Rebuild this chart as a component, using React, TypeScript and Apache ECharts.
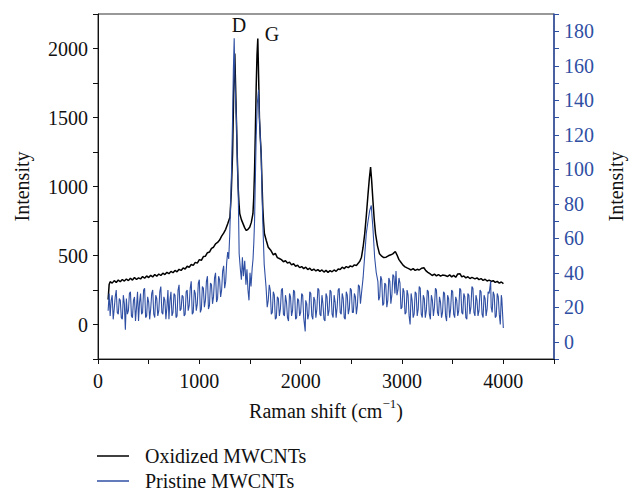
import React, { useEffect, useRef } from "react";
import * as echarts from "echarts";

const FONT = "Liberation Serif";
const BLUE = "#2f4fa3";
const INK = "#111";

const xTickLabels = [0, 1000, 2000, 3000, 4000];
const seriesNames = ["Oxidized MWCNTs", "Pristine MWCNTs"];
const peakLabels = ["D", "G"];

// Oxidized MWCNTs: [Raman shift, intensity (left axis)]
const oxidized: number[][] = [
  [100, 180], [110, 290], [120, 310], [140, 300], [160, 318], [180, 305], [200, 322], [220, 310],
  [240, 326], [260, 315], [280, 330], [300, 318], [320, 335], [340, 322], [360, 340], [380, 326],
  [400, 338], [420, 330], [440, 348], [460, 335], [480, 352], [500, 340], [520, 356], [540, 345],
  [560, 362], [580, 350], [600, 366], [620, 355], [640, 372], [660, 362], [680, 378], [700, 368],
  [720, 385], [740, 375], [760, 392], [780, 382], [800, 400], [820, 392], [840, 410], [860, 402],
  [880, 422], [900, 415], [920, 435], [940, 428], [960, 450], [980, 445], [1000, 470], [1020, 465],
  [1040, 492], [1060, 495], [1080, 520], [1100, 525], [1120, 552], [1140, 560], [1160, 585],
  [1180, 595], [1200, 612], [1220, 640], [1240, 662], [1260, 690], [1280, 730], [1302, 777],
  [1315, 950], [1328, 1239], [1340, 1720], [1350, 1964], [1358, 1720], [1366, 1478], [1375, 1200],
  [1383, 995], [1391, 880], [1399, 803], [1415, 760], [1431, 731], [1448, 700], [1464, 681],
  [1480, 690], [1497, 705], [1513, 740], [1529, 803], [1537, 920], [1545, 1116], [1553, 1400],
  [1561, 1720], [1569, 1950], [1577, 2072], [1585, 1800], [1593, 1500], [1602, 1350], [1610, 1239],
  [1618, 1040], [1626, 850], [1634, 740], [1642, 659], [1660, 610], [1680, 560], [1707, 536],
  [1730, 505], [1750, 515], [1770, 485], [1789, 478], [1810, 470], [1830, 455], [1850, 462],
  [1870, 445], [1890, 452], [1910, 432], [1930, 440], [1950, 422], [1970, 430], [1990, 412],
  [2010, 420], [2030, 405], [2050, 415], [2070, 398], [2090, 408], [2110, 392], [2130, 402],
  [2150, 388], [2170, 398], [2190, 385], [2210, 395], [2230, 380], [2250, 392], [2270, 378],
  [2290, 390], [2310, 382], [2330, 395], [2350, 385], [2370, 402], [2390, 398], [2410, 415],
  [2430, 405], [2450, 420], [2470, 412], [2490, 425], [2510, 418], [2530, 432], [2550, 428],
  [2570, 445], [2585, 460], [2600, 488], [2616, 560], [2632, 657], [2648, 790], [2665, 947],
  [2678, 1060], [2690, 1140], [2700, 1050], [2713, 899], [2726, 760], [2739, 657], [2758, 570],
  [2778, 512], [2800, 495], [2820, 485], [2843, 488], [2865, 498], [2890, 505], [2909, 512],
  [2934, 529], [2950, 505], [2970, 470], [2989, 451], [3010, 430], [3030, 418], [3050, 410],
  [3070, 403], [3090, 395], [3110, 405], [3130, 392], [3150, 400], [3170, 395], [3195, 408],
  [3216, 411], [3235, 390], [3255, 378], [3275, 368], [3298, 355], [3320, 365], [3340, 352],
  [3360, 362], [3380, 350], [3400, 358], [3427, 355], [3450, 348], [3470, 360], [3490, 345],
  [3510, 356], [3530, 342], [3550, 366], [3573, 367], [3590, 345], [3610, 352], [3630, 338],
  [3650, 346], [3670, 333], [3690, 342], [3720, 331], [3740, 338], [3760, 325], [3780, 333],
  [3800, 320], [3820, 328], [3840, 315], [3860, 322], [3882, 312], [3900, 318], [3920, 305],
  [3940, 312], [3960, 300], [3980, 308], [3995, 300], [4000, 295],
];

// Pristine MWCNTs: [Raman shift, intensity (right axis)]
const pristine: number[][] = [
  [100, 18], [110, 28], [120, 15], [130, 24], [140, 27], [150, 13], [160, 19], [170, 26], [180, 30],
  [190, 17], [200, 16], [210, 25], [220, 24], [230, 14], [240, 13], [250, 27], [260, 22], [270, 7],
  [280, 25], [290, 16], [300, 18], [310, 28], [320, 29], [330, 15], [340, 14], [350, 24], [360, 26],
  [370, 12], [380, 20], [390, 29], [400, 12], [410, 23], [420, 28], [430, 16], [440, 17], [450, 30],
  [460, 31], [470, 14], [480, 15], [490, 26], [500, 23], [510, 13], [520, 19], [530, 28], [540, 30],
  [550, 16], [560, 14], [570, 27], [580, 25], [590, 15], [600, 18], [610, 29], [620, 32], [630, 17],
  [640, 16], [650, 26], [660, 24], [670, 13], [680, 20], [690, 30], [700, 13], [710, 24], [720, 29],
  [730, 15], [740, 17], [750, 28], [760, 27], [770, 14], [780, 15], [790, 30], [800, 33], [810, 18],
  [820, 19], [830, 27], [840, 26], [850, 15], [860, 16], [870, 29], [880, 30], [890, 18], [900, 21],
  [910, 31], [920, 35], [930, 16], [940, 17], [950, 30], [960, 28], [970, 18], [980, 22], [990, 34],
  [1000, 36], [1010, 17], [1020, 19], [1030, 32], [1040, 31], [1050, 20], [1060, 24], [1070, 35],
  [1080, 38], [1090, 19], [1100, 21], [1110, 34], [1120, 33], [1130, 22], [1140, 26], [1150, 37],
  [1160, 40], [1170, 23], [1180, 25], [1190, 38], [1200, 36], [1210, 26], [1220, 30], [1230, 41],
  [1240, 44], [1250, 31], [1260, 35], [1270, 46], [1280, 52], [1290, 48], [1300, 62], [1318, 99],
  [1328, 129], [1336, 158], [1344, 176], [1350, 155], [1358, 140], [1366, 129], [1375, 105],
  [1383, 90], [1393, 51], [1405, 42], [1415, 36], [1425, 49], [1435, 38], [1448, 47], [1460, 33],
  [1470, 42], [1480, 30], [1490, 24], [1500, 40], [1510, 32], [1522, 43], [1530, 48], [1538, 58],
  [1545, 70], [1553, 95], [1561, 119], [1572, 138], [1584, 146], [1593, 130], [1602, 118],
  [1610, 109], [1618, 88], [1626, 70], [1640, 45], [1658, 32], [1670, 20], [1680, 24], [1690, 33],
  [1700, 30], [1710, 16], [1720, 17], [1730, 29], [1740, 27], [1750, 13], [1760, 14], [1770, 26],
  [1780, 25], [1790, 15], [1800, 19], [1810, 30], [1820, 31], [1830, 16], [1840, 15], [1850, 27],
  [1860, 23], [1870, 14], [1880, 12], [1890, 28], [1900, 26], [1910, 15], [1920, 18], [1930, 30],
  [1940, 29], [1950, 13], [1960, 14], [1970, 25], [1980, 24], [1990, 15], [2000, 17], [2010, 28],
  [2020, 27], [2030, 14], [2045, 6], [2050, 24], [2060, 22], [2070, 13], [2080, 16], [2090, 29],
  [2100, 28], [2110, 15], [2120, 13], [2130, 26], [2140, 24], [2150, 14], [2160, 19], [2170, 31],
  [2180, 30], [2190, 16], [2200, 15], [2210, 27], [2220, 22], [2230, 13], [2240, 12], [2250, 28],
  [2260, 26], [2270, 15], [2280, 18], [2290, 30], [2300, 29], [2310, 16], [2320, 14], [2330, 27],
  [2340, 23], [2350, 14], [2360, 20], [2370, 30], [2380, 31], [2390, 17], [2400, 16], [2410, 28],
  [2420, 25], [2430, 14], [2440, 13], [2450, 29], [2460, 27], [2470, 16], [2480, 19], [2490, 31],
  [2500, 30], [2510, 17], [2520, 17], [2530, 28], [2540, 26], [2550, 16], [2560, 21], [2570, 33],
  [2580, 32], [2590, 22], [2600, 28], [2616, 37], [2632, 50], [2648, 63], [2665, 70], [2681, 76],
  [2697, 79], [2705, 72], [2713, 66], [2722, 57], [2730, 49], [2746, 40], [2762, 35], [2770, 24],
  [2780, 26], [2790, 38], [2800, 36], [2810, 21], [2820, 22], [2830, 34], [2840, 33], [2850, 20],
  [2860, 24], [2870, 37], [2880, 35], [2890, 22], [2900, 27], [2910, 39], [2920, 38], [2930, 28],
  [2941, 41], [2950, 27], [2960, 30], [2970, 37], [2980, 34], [2990, 19], [3000, 20], [3010, 31],
  [3020, 29], [3030, 16], [3040, 17], [3050, 30], [3060, 27], [3070, 15], [3080, 10], [3090, 28],
  [3100, 24], [3110, 14], [3120, 16], [3130, 29], [3140, 28], [3150, 15], [3160, 19], [3170, 32],
  [3180, 31], [3190, 16], [3200, 14], [3210, 27], [3220, 25], [3230, 14], [3240, 18], [3250, 30],
  [3260, 29], [3270, 16], [3280, 13], [3290, 27], [3300, 24], [3310, 15], [3320, 20], [3330, 31],
  [3340, 30], [3350, 17], [3360, 15], [3370, 26], [3380, 23], [3390, 14], [3400, 17], [3410, 29],
  [3420, 28], [3430, 15], [3440, 12], [3450, 27], [3460, 25], [3470, 14], [3480, 19], [3490, 30],
  [3500, 29], [3510, 16], [3520, 14], [3530, 26], [3540, 24], [3550, 15], [3560, 18], [3570, 31],
  [3580, 30], [3590, 17], [3600, 16], [3610, 28], [3620, 26], [3630, 14], [3640, 13], [3650, 28],
  [3660, 27], [3670, 16], [3680, 20], [3690, 32], [3700, 31], [3710, 17], [3720, 15], [3730, 27],
  [3740, 24], [3750, 15], [3760, 18], [3770, 30], [3780, 29], [3790, 16], [3800, 14], [3810, 27],
  [3820, 25], [3830, 15], [3840, 19], [3850, 29], [3860, 28], [3875, 35], [3880, 20], [3890, 17],
  [3900, 29], [3910, 27], [3920, 14], [3930, 15], [3940, 28], [3950, 26], [3960, 16], [3970, 10],
  [3980, 27], [3985, 25], [4000, 8],
];

export default function App() {
  const ref = useRef<HTMLDivElement>(null);
  useEffect(() => {
    if (!ref.current) return;
    const chart = echarts.init(ref.current, null, { renderer: "svg", width: 634, height: 491 });
    const baseText = { fontFamily: FONT, fontSize: 20, color: INK };
    const legendCommon = {
      orient: "horizontal", left: 92, icon: "rect", itemWidth: 32, itemHeight: 1.5,
      textStyle: { ...baseText, padding: [0, 0, 0, 11] },
    };
    chart.setOption({
      animation: false,
      backgroundColor: "#fff",
      textStyle: { fontFamily: FONT },
      grid: {
        left: 98, top: 14, width: 463, height: 345,
        show: true, borderColor: "#333", borderWidth: 1,
      },
      legend: [
        { ...legendCommon, top: 441, data: [seriesNames[0]] },
        { ...legendCommon, top: 466, data: [seriesNames[1]] },
      ],
      xAxis: {
        type: "value", min: 0, max: 4500, interval: 500,
        name: "{a|Raman shift (cm}{s|−1}{a|)}",
        nameLocation: "middle", nameGap: 38,
        nameTextStyle: {
          ...baseText,
          rich: {
            a: { fontFamily: FONT, fontSize: 20, color: INK },
            s: { fontFamily: FONT, fontSize: 13, color: INK, padding: [0, 0, 14, 0] },
          },
        },
        axisLine: { onZero: false, lineStyle: { color: INK, width: 1 } },
        axisTick: { length: 5, lineStyle: { color: INK } },
        axisLabel: {
          ...baseText, margin: 12,
          formatter: (v: number) => (xTickLabels.includes(v) ? String(v) : ""),
        },
        splitLine: { show: false },
      },
      yAxis: [
        {
          type: "value", min: -250, max: 2250, interval: 250, position: "left",
          name: "Intensity", nameLocation: "middle", nameGap: 66,
          nameTextStyle: baseText,
          axisLine: { show: true, onZero: false, lineStyle: { color: INK, width: 1 } },
          axisTick: { show: true, length: 5, lineStyle: { color: INK } },
          axisLabel: {
            ...baseText, margin: 10,
            formatter: (v: number) => (v % 500 === 0 ? String(v) : ""),
          },
          splitLine: { show: false },
        },
        {
          type: "value", min: -10, max: 190, interval: 10, position: "right",
          name: "Intensity", nameLocation: "middle", nameGap: 52, nameRotate: 90,
          nameTextStyle: baseText,
          axisLine: { show: true, onZero: false, lineStyle: { color: BLUE, width: 1.5 } },
          axisTick: { show: true, length: 5, lineStyle: { color: BLUE } },
          axisLabel: {
            ...baseText, color: BLUE, margin: 10,
            formatter: (v: number) => (v >= 0 && v % 20 === 0 ? String(v) : ""),
          },
          splitLine: { show: false },
        },
      ],
      graphic: [
        { type: "text", x: 239, y: 25, style: { text: peakLabels[0], fontFamily: FONT, fontSize: 20, fill: INK, align: "center", verticalAlign: "middle" } },
        { type: "text", x: 272, y: 34, style: { text: peakLabels[1], fontFamily: FONT, fontSize: 20, fill: INK, align: "center", verticalAlign: "middle" } },
      ],
      series: [
        {
          name: seriesNames[0], type: "line", yAxisIndex: 0, data: oxidized,
          showSymbol: false, symbol: "none", lineStyle: { color: "#000", width: 1.5 },
          itemStyle: { color: "#000" },
        },
        {
          name: seriesNames[1], type: "line", yAxisIndex: 1, data: pristine,
          showSymbol: false, symbol: "none", lineStyle: { color: BLUE, width: 1.1 },
          itemStyle: { color: BLUE },
        },
      ],
    });
    return () => chart.dispose();
  }, []);
  return (
    <div
      ref={ref}
      style={{ position: "fixed", left: 0, top: 0, width: 634, height: 491, background: "#fff" }}
    />
  );
}
